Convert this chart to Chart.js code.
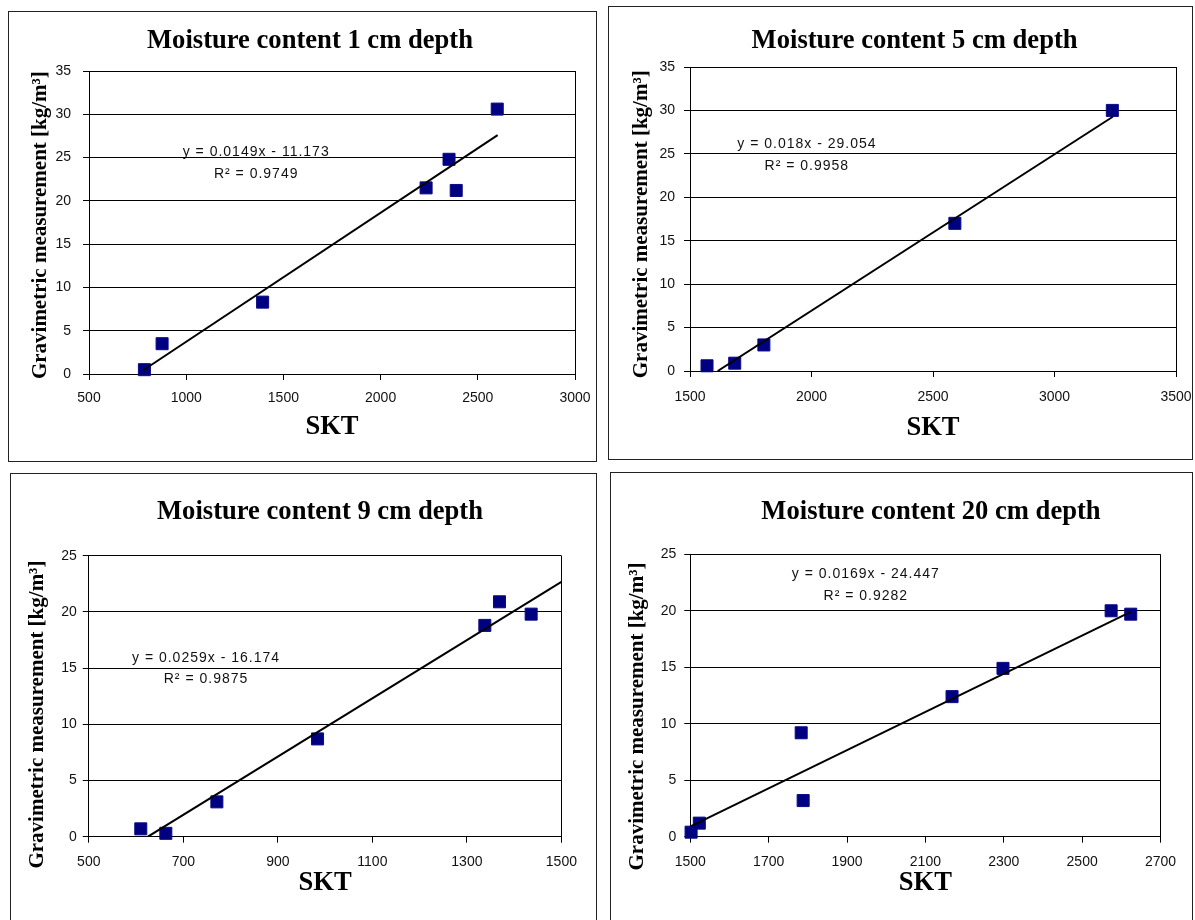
<!DOCTYPE html>
<html>
<head>
<meta charset="utf-8">
<title>Moisture content vs SKT</title>
<script src="https://cdn.jsdelivr.net/npm/chart.js"></script>
<style>
  html, body { margin: 0; padding: 0; background: #fff; }
  body { width: 1195px; height: 920px; position: relative; overflow: hidden; }
  .frame { position: absolute; border: 1.5px solid #222; box-sizing: border-box; }
  canvas { position: absolute; }
</style>
</head>
<body>
<div class="frame" style="left:8px;top:11px;width:589px;height:451px"></div>
<div class="frame" style="left:608px;top:6px;width:585px;height:454px"></div>
<div class="frame" style="left:10px;top:473px;width:587px;height:460px"></div>
<div class="frame" style="left:610px;top:472px;width:583px;height:460px"></div>

<canvas id="c1" width="588" height="450" style="left:8px;top:11px"></canvas>
<canvas id="c2" width="587" height="453" style="left:608px;top:6px"></canvas>
<canvas id="c3" width="586" height="447" style="left:10px;top:473px"></canvas>
<canvas id="c4" width="582" height="448" style="left:610px;top:472px"></canvas>

<script>
// 1 cm depth
var skt1 = [785, 876, 1393, 2234, 2352, 2389, 2600];
var grav1 = [0.5, 3.5, 8.3, 21.5, 24.8, 21.2, 30.6];
var trendX1 = [781, 2602];
var trendY1 = [0.46, 27.6];
var eq1 = ['y = 0.0149x - 11.173', 'R² = 0.9749'];

// 5 cm depth
var skt2 = [1570, 1684, 1804, 2590, 3238];
var grav2 = [0.6, 0.9, 3.0, 17.0, 30.0];
var trendX2 = [1614, 3240];
var trendY2 = [0, 29.27];
var eq2 = ['y = 0.018x - 29.054', 'R² = 0.9958'];

// 9 cm depth
var skt3 = [610, 663, 771, 984, 1338, 1369, 1436];
var grav3 = [0.7, 0.3, 3.1, 8.7, 18.8, 20.9, 19.8];
var trendX3 = [625, 1500];
var trendY3 = [0, 22.68];
var eq3 = ['y = 0.0259x - 16.174', 'R² = 0.9875'];

// 20 cm depth
var skt4 = [1502, 1523, 1783, 1788, 2168, 2298, 2574, 2624];
var grav4 = [0.4, 1.2, 9.2, 3.2, 12.4, 14.9, 20.0, 19.7];
var trendX4 = [1502, 2624];
var trendY4 = [0.94, 19.9];
var eq4 = ['y = 0.0169x - 24.447', 'R² = 0.9282'];

var serif = '"Liberation Serif", "Times New Roman", serif';
var sans = '"Liberation Sans", Arial, sans-serif';
var nbsp = '\u00a0';

// title and trendline equation text
var panelText = {
  id: 'panelText',
  afterDatasetsDraw: function (chart, args, opts) {
    var ctx = chart.ctx;
    ctx.save();
    ctx.fillStyle = '#000';
    ctx.textAlign = 'center';
    ctx.textBaseline = 'middle';
    ctx.font = 'bold 26.6px ' + serif;
    ctx.fillText(opts.title, opts.titleX, opts.titleY);
    ctx.font = '14px ' + sans;
    ctx.fillStyle = '#111';
    if ('letterSpacing' in ctx) ctx.letterSpacing = '1px';
    var ex = chart.scales.x.getPixelForValue(opts.eqAt[0]);
    var ey = chart.scales.y.getPixelForValue(opts.eqAt[1]);
    for (var i = 0; i < opts.eq.length; i++) {
      ctx.fillText(opts.eq[i], ex, ey + i * 21.5);
    }
    ctx.restore();
  }
};

function panel(id, p) {
  var pts = p.skt.map(function (x, i) { return { x: x, y: p.grav[i] }; });
  var trend = p.trendX.map(function (x, i) { return { x: x, y: p.trendY[i] }; });
  return new Chart(document.getElementById(id), {
    type: 'scatter',
    data: {
      datasets: [
        { type: 'line', data: trend, borderColor: '#000', borderWidth: 2, pointRadius: 0, fill: false, tension: 0, order: 0 },
        { data: pts, pointStyle: 'rect', pointRadius: 8.5, backgroundColor: '#000080', borderColor: '#0a0a88', borderWidth: 1, clip: false, order: 1 }
      ]
    },
    options: {
      responsive: false,
      animation: false,
      layout: { padding: { left: 0, right: p.padR, top: p.padT, bottom: 0 } },
      plugins: {
        legend: { display: false },
        tooltip: { enabled: false },
        panelText: { title: p.title, titleX: p.titleX, titleY: p.titleY, eq: p.eq, eqAt: p.eqAt }
      },
      scales: {
        x: {
          type: 'linear', min: p.xMin, max: p.xMax,
          afterFit: function (s) { s.height = p.xH; s.paddingLeft = 0; s.paddingRight = 0; },
          ticks: {
            stepSize: p.xStep, autoSkip: false, maxRotation: 0, padding: p.xLabelPad,
            color: '#111', font: { family: sans, size: 14 },
            callback: function (v) { return v; }
          },
          grid: {
            color: function (c) { return c.tick && c.tick.value === p.xMax ? '#000' : 'rgba(0,0,0,0)'; },
            tickColor: '#000', tickLength: 6, lineWidth: 1
          },
          border: { color: '#000', width: 1 },
          title: {
            display: true, text: 'SKT', color: '#000',
            font: { family: serif, size: 26.6, weight: 'bold' },
            padding: { top: 0, bottom: p.xTitlePad }
          }
        },
        y: {
          min: 0, max: p.yMax,
          afterFit: function (s) { s.width = p.yW; s.paddingTop = 0; s.paddingBottom = 0; },
          ticks: { stepSize: 5, padding: p.yLabelPad, color: '#111', font: { family: sans, size: 14 } },
          grid: { color: '#000', tickColor: '#000', tickLength: 6, lineWidth: 1 },
          border: { color: '#000', width: 1 },
          title: {
            display: true, text: 'Gravimetric measurement [kg/m³]' + nbsp.repeat(p.yShift), color: '#000',
            font: { family: serif, size: 21, weight: 'bold' },
            padding: { top: p.yTitlePad, bottom: 0 }
          }
        }
      }
    },
    plugins: [panelText]
  });
}

panel('c1', {
  skt: skt1, grav: grav1, trendX: trendX1, trendY: trendY1, eq: eq1,
  title: 'Moisture content 1 cm depth', titleX: 302, titleY: 30, eqAt: [1360, 25.6],
  xMin: 500, xMax: 3000, xStep: 500, yMax: 35,
  padR: 21, padT: 60, yW: 81, xH: 87, xLabelPad: 10, xTitlePad: 18.4,
  yLabelPad: 12, yTitlePad: 20.4, yShift: 1
});
panel('c2', {
  skt: skt2, grav: grav2, trendX: trendX2, trendY: trendY2, eq: eq2,
  title: 'Moisture content 5 cm depth', titleX: 306.6, titleY: 35, eqAt: [1981, 26.1],
  xMin: 1500, xMax: 3500, xStep: 500, yMax: 35,
  padR: 19, padT: 61, yW: 82, xH: 88, xLabelPad: 12, xTitlePad: 15.4,
  yLabelPad: 9, yTitlePad: 21.1, yShift: 2
});
panel('c3', {
  skt: skt3, grav: grav3, trendX: trendX3, trendY: trendY3, eq: eq3,
  title: 'Moisture content 9 cm depth', titleX: 310, titleY: 39, eqAt: [748, 15.9],
  xMin: 500, xMax: 1500, xStep: 200, yMax: 25,
  padR: 34.6, padT: 82.7, yW: 78.8, xH: 83.3, xLabelPad: 11.5, xTitlePad: 21.4,
  yLabelPad: 6, yTitlePad: 15.4, yShift: 7
});
panel('c4', {
  skt: skt4, grav: grav4, trendX: trendX4, trendY: trendY4, eq: eq4,
  title: 'Moisture content 20 cm depth', titleX: 321, titleY: 40, eqAt: [1948, 23.2],
  xMin: 1500, xMax: 2700, xStep: 200, yMax: 25,
  padR: 31.5, padT: 82.3, yW: 80.3, xH: 83.3, xLabelPad: 11, xTitlePad: 21.4,
  yLabelPad: 8, yTitlePad: 15.4, yShift: 8
});
</script>
</body>
</html>
